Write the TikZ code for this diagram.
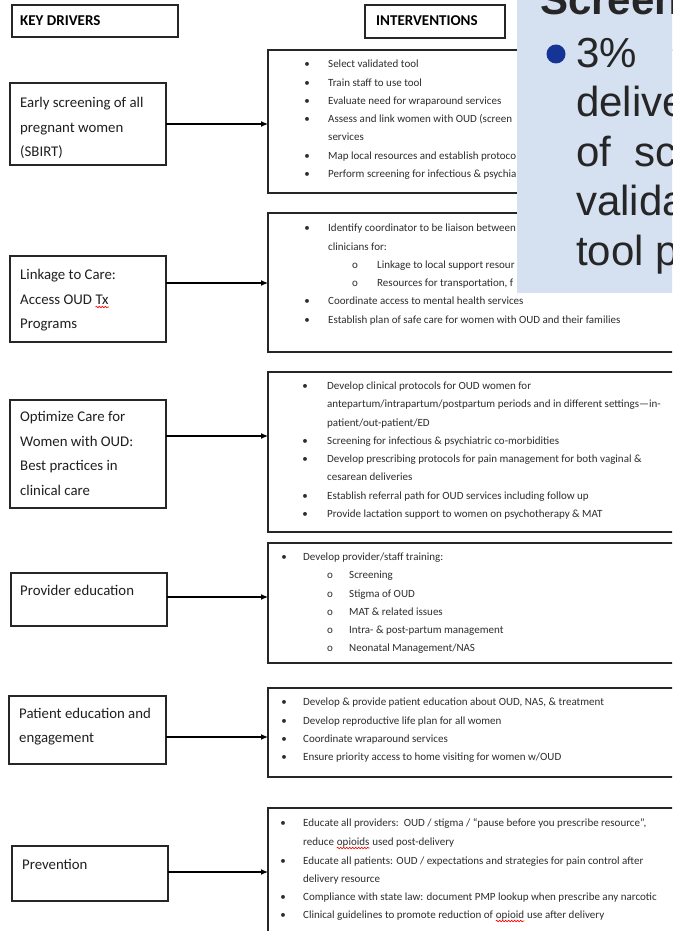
\documentclass[tikz,border=0pt]{standalone}
\usepackage{fontspec}
\setmainfont{Carlito}
\newfontfamily\arialfont{Liberation Sans}
\usetikzlibrary{arrows.meta,decorations.pathmorphing}
\definecolor{ovl}{RGB}{213,224,241}
\definecolor{bulblue}{RGB}{22,52,150}
\definecolor{txt}{RGB}{45,45,45}
\newcommand\ItemL[5]{\node[bul] (#1b) at (#2,#4) {•}; \node[itx] (#1) at (#3,#4) {#5};}
\newcommand\SubL[5]{\node[bul] (#1b) at (#2,#4) {o}; \node[itx] (#1) at (#3,#4) {#5};}
\newcommand\ContL[4]{\node[itx] (#1) at (#2,#3) {#4};}
\newcommand\DrvL[4]{\node[drv] (#1) at (#2,#3) {#4};}
\begin{document}
\begin{tikzpicture}[x=1pt,y=-1pt,
  frame/.style={draw=black!85, line width=1.2pt, inner sep=0pt, outer sep=0pt, anchor=north west},
  drv/.style={anchor=base west, inner sep=0pt, font=\fontsize{14.8}{17}\selectfont, text=black!88},
  itx/.style={anchor=base west, inner sep=0pt, font=\fontsize{11}{13}\selectfont, text=txt},
  bul/.style={anchor=base, inner sep=0pt, font=\fontsize{11}{13}\selectfont, text=txt},
  hdr/.style={anchor=base west, inner sep=0pt, font=\bfseries\fontsize{15}{17}\selectfont},
  conn/.style={draw=black, line width=1.2pt, -{Latex[length=7pt,width=6pt]}},
  ovt/.style={anchor=base west, inner sep=0pt, font=\arialfont\fontsize{42}{48}\selectfont, text=black!85},
  squig/.style={draw=red, line width=0.6pt, decorate, decoration={snake, amplitude=0.8pt, segment length=3pt}},
]
\useasboundingbox (0,0) rectangle (672,931);
\clip (0,0) rectangle (672,931);
\fill[white] (0,0) rectangle (672,931);

% headers
\node[frame, minimum width=166pt, minimum height=32pt] (hkd) at (12,5) {};
\node[hdr] (hkdt) at (20,26) {KEY DRIVERS};
\node[frame, minimum width=140pt, minimum height=33pt] (hiv) at (365,5) {};
\node[hdr] (hivt) at (376,26) {INTERVENTIONS};

% key driver boxes
\node[frame, minimum width=156pt, minimum height=82pt] (kd1) at (10,83) {};
\node[frame, minimum width=156pt, minimum height=86pt] (kd2) at (10,256) {};
\node[frame, minimum width=156pt, minimum height=108pt] (kd3) at (10,400) {};
\node[frame, minimum width=156pt, minimum height=53pt] (kd4) at (11,573) {};
\node[frame, minimum width=157pt, minimum height=68pt] (kd5) at (9,696) {};
\node[frame, minimum width=156pt, minimum height=55pt] (kd6) at (12,846) {};

\DrvL{k1a}{20}{108}{Early screening of all}
\DrvL{k1b}{20}{132}{pregnant women}
\DrvL{k1c}{20}{156}{(SBIRT)}
\DrvL{k2a}{20}{279}{Linkage to Care:}
\DrvL{k2b}{20}{304}{Access OUD}
\node[drv] (k2tx) at ([xshift=3.3pt]k2b.base east) {Tx};
\DrvL{k2c}{20}{328}{Programs}
\DrvL{k3a}{20}{421}{Optimize Care for}
\DrvL{k3b}{20}{446}{Women with OUD:}
\DrvL{k3c}{20}{470}{Best practices in}
\DrvL{k3d}{20}{495}{clinical care}
\DrvL{k4a}{20}{595}{Provider education}
\DrvL{k5a}{19}{718}{Patient education and}
\DrvL{k5b}{19}{742}{engagement}
\DrvL{k6a}{22}{869}{Prevention}
\draw[squig] ([yshift=-3pt]k2tx.base west) -- ([yshift=-3pt]k2tx.base east);

% intervention boxes
\node[frame, minimum width=440pt, minimum height=143pt] (iv1) at (268,50) {};
\node[frame, minimum width=440pt, minimum height=139pt] (iv2) at (268,213) {};
\node[frame, minimum width=440pt, minimum height=160pt] (iv3) at (268,372) {};
\node[frame, minimum width=440pt, minimum height=120pt] (iv4) at (268,543) {};
\node[frame, minimum width=440pt, minimum height=89pt] (iv5) at (268,688) {};
\node[frame, minimum width=440pt, minimum height=140pt] (iv6) at (268,808) {};

% connectors
\draw[conn] (kd1.east |- 0,124) -- (iv1.west |- 0,124);
\draw[conn] (kd2.east |- 0,283) -- (iv2.west |- 0,283);
\draw[conn] (kd3.east |- 0,436) -- (iv3.west |- 0,436);
\draw[conn] (kd4.east |- 0,597) -- (iv4.west |- 0,597);
\draw[conn] (kd5.east |- 0,737) -- (iv5.west |- 0,737);
\draw[conn] (kd6.east |- 0,872) -- (iv6.west |- 0,872);

% box 1
\ItemL{a1}{307}{328}{67.5}{Select validated tool}
\ItemL{a2}{307}{328}{86.5}{Train staff to use tool}
\ItemL{a3}{307}{328}{104.5}{Evaluate need for wraparound services}
\ItemL{a4}{307}{328}{122.5}{Assess and link women with OUD (screen}
\ContL{a5}{328}{140.5}{services}
\ItemL{a6}{307}{328}{159.5}{Map local resources and establish protoco}
\ItemL{a7}{307}{328}{177.5}{Perform screening for infectious \& psychia}

% box 2
\ItemL{b1}{307}{328}{231.5}{Identify coordinator to be liaison between}
\ContL{b2}{328}{250.5}{clinicians for:}
\SubL{b3}{355}{377}{268.5}{Linkage to local support resour}
\SubL{b4}{355}{377}{286.5}{Resources for transportation, f}
\ItemL{b5}{307}{328}{304.5}{Coordinate access to mental health services}
\ItemL{b6}{307}{328}{323.5}{Establish plan of safe care for women with OUD and their families}

% box 3
\ItemL{c1}{305}{327}{389.5}{Develop clinical protocols for OUD women for}
\ContL{c2}{327}{407.5}{antepartum/intrapartum/postpartum periods and in different settings—in-}
\ContL{c3}{327}{426.5}{patient/out-patient/ED}
\ItemL{c4}{305}{327}{444.5}{Screening for infectious \& psychiatric co-morbidities}
\ItemL{c5}{305}{327}{462.5}{Develop prescribing protocols for pain management for both vaginal \&}
\ContL{c6}{327}{480.5}{cesarean deliveries}
\ItemL{c7}{305}{327}{499.5}{Establish referral path for OUD services including follow up}
\ItemL{c8}{305}{327}{517.5}{Provide lactation support to women on psychotherapy \& MAT}

% box 4
\ItemL{e1}{284}{303}{560.5}{Develop provider/staff training:}
\SubL{e2}{330}{349}{578.5}{Screening}
\SubL{e3}{330}{349}{597.5}{Stigma of OUD}
\SubL{e4}{330}{349}{615.5}{MAT \& related issues}
\SubL{e5}{330}{349}{633.5}{Intra- \& post-partum management}
\SubL{e6}{330}{349}{651.5}{Neonatal Management/NAS}

% box 5
\ItemL{f1}{284}{303}{705.5}{Develop \& provide patient education about OUD, NAS, \& treatment}
\ItemL{f2}{284}{303}{724.5}{Develop reproductive life plan for all women}
\ItemL{f3}{284}{303}{742.5}{Coordinate wraparound services}
\ItemL{f4}{284}{303}{760.5}{Ensure priority access to home visiting for women w/OUD}

% box 6
\ItemL{g1}{283}{303}{826.5}{Educate all providers:\ \ OUD / stigma / “pause before you prescribe resource”,}
\ContL{g2a}{303}{845.5}{reduce}
\node[itx] (g2b) at ([xshift=2.5pt]g2a.base east) {opioids};
\node[itx] (g2c) at ([xshift=2.5pt]g2b.base east) {used post-delivery};
\ItemL{g3}{283}{303}{864.5}{Educate all patients: OUD / expectations and strategies for pain control after}
\ContL{g4}{303}{882.5}{delivery resource}
\ItemL{g5}{283}{303}{900.5}{Compliance with state law: document PMP lookup when prescribe any narcotic}
\ItemL{g6}{283}{303}{918.5}{Clinical guidelines to promote reduction of}
\node[itx] (g6b) at ([xshift=2.5pt]g6.base east) {opioid};
\node[itx] (g6c) at ([xshift=2.5pt]g6b.base east) {use after delivery};
\draw[squig] ([yshift=-2.5pt]g2b.base west) -- ([yshift=-2.5pt]g2b.base east);
\draw[squig] ([yshift=-2.5pt]g6b.base west) -- ([yshift=-2.5pt]g6b.base east);

% overlay screenshot
\node[fill=ovl, inner sep=0pt, outer sep=0pt, anchor=north west, minimum width=170pt, minimum height=300pt] (scr) at (517,-7) {};
\node[ovt, font=\arialfont\bfseries\fontsize{42}{48}\selectfont] (s0) at (540,15) {Screen};
\node[circle, fill=bulblue, minimum size=19pt, inner sep=0pt] (sdot) at (556,54) {};
\node[ovt] (s1) at (576,68) {3\%};
\node[ovt] (s2) at (576,117) {delive};
\node[ovt] (s3) at (576,166) {of};
\node[ovt] (s3b) at (634,166) {sc};
\node[ovt] (s4) at (576,215) {valida};
\node[ovt] (s5) at (576,265) {tool p};
\end{tikzpicture}
\end{document}
